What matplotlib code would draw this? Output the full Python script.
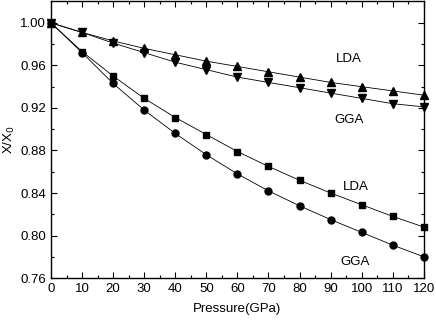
import numpy as np
import matplotlib
matplotlib.use('Agg')
import matplotlib.pyplot as plt

plt.rcParams['font.family'] = ['Liberation Sans', 'DejaVu Sans']

pressure = [0, 10, 20, 30, 40, 50, 60, 70, 80, 90, 100, 110, 120]

# upper pair and lower pair of ratio curves
lda_upper = [1.000, 0.991, 0.983, 0.976, 0.970, 0.964, 0.959, 0.954, 0.949, 0.944, 0.940, 0.936, 0.932]
gga_upper = [1.000, 0.991, 0.981, 0.972, 0.963, 0.956, 0.949, 0.944, 0.939, 0.934, 0.929, 0.924, 0.921]
lda_lower = [1.000, 0.973, 0.950, 0.929, 0.911, 0.895, 0.879, 0.865, 0.852, 0.840, 0.829, 0.818, 0.808]
gga_lower = [1.000, 0.972, 0.943, 0.918, 0.896, 0.876, 0.858, 0.842, 0.828, 0.815, 0.803, 0.791, 0.780]

fig = plt.figure(figsize=(4.36, 3.20), dpi=100)
ax = fig.add_axes([0.117, 0.131, 0.855, 0.866])

kw = dict(color='black', lw=0.6, clip_on=False, zorder=3)
ax.plot(pressure, lda_upper, marker='^', ms=5.5, **kw)
ax.plot(pressure, gga_upper, marker='v', ms=5.5, **kw)
ax.plot(pressure, lda_lower, marker='s', ms=4.5, **kw)
ax.plot(pressure, gga_lower, marker='o', ms=5, **kw)

ax.set_xlim(0, 120)
ax.set_ylim(0.76, 1.0206)
ax.set_xticks(np.arange(0, 121, 10))
ax.set_xticks(np.arange(0, 121, 5), minor=True)
ax.set_yticks(np.arange(0.76, 1.001, 0.04))
ax.set_yticks(np.arange(0.76, 1.02, 0.02), minor=True)
ax.set_yticklabels(['%.2f' % v for v in np.arange(0.76, 1.001, 0.04)])

ax.tick_params(which='both', direction='in', labelsize=9.5, top=True, right=True)
ax.tick_params(which='major', length=4, width=0.8)
ax.tick_params(which='minor', length=2, width=0.8)
for s in ax.spines.values():
    s.set_linewidth(1.0)

ax.text(96, 0.966, 'LDA', fontsize=9.5, ha='center', va='center')
ax.text(96, 0.9085, 'GGA', fontsize=9.5, ha='center', va='center')
ax.text(98, 0.846, 'LDA', fontsize=9.5, ha='center', va='center')
ax.text(98, 0.775, 'GGA', fontsize=9.5, ha='center', va='center')

ax.set_xlabel('Pressure(GPa)', fontsize=9.5, labelpad=6)
ax.set_ylabel('X/X$_0$', fontsize=9.5, labelpad=2)

fig.savefig('out.png', dpi=100)
